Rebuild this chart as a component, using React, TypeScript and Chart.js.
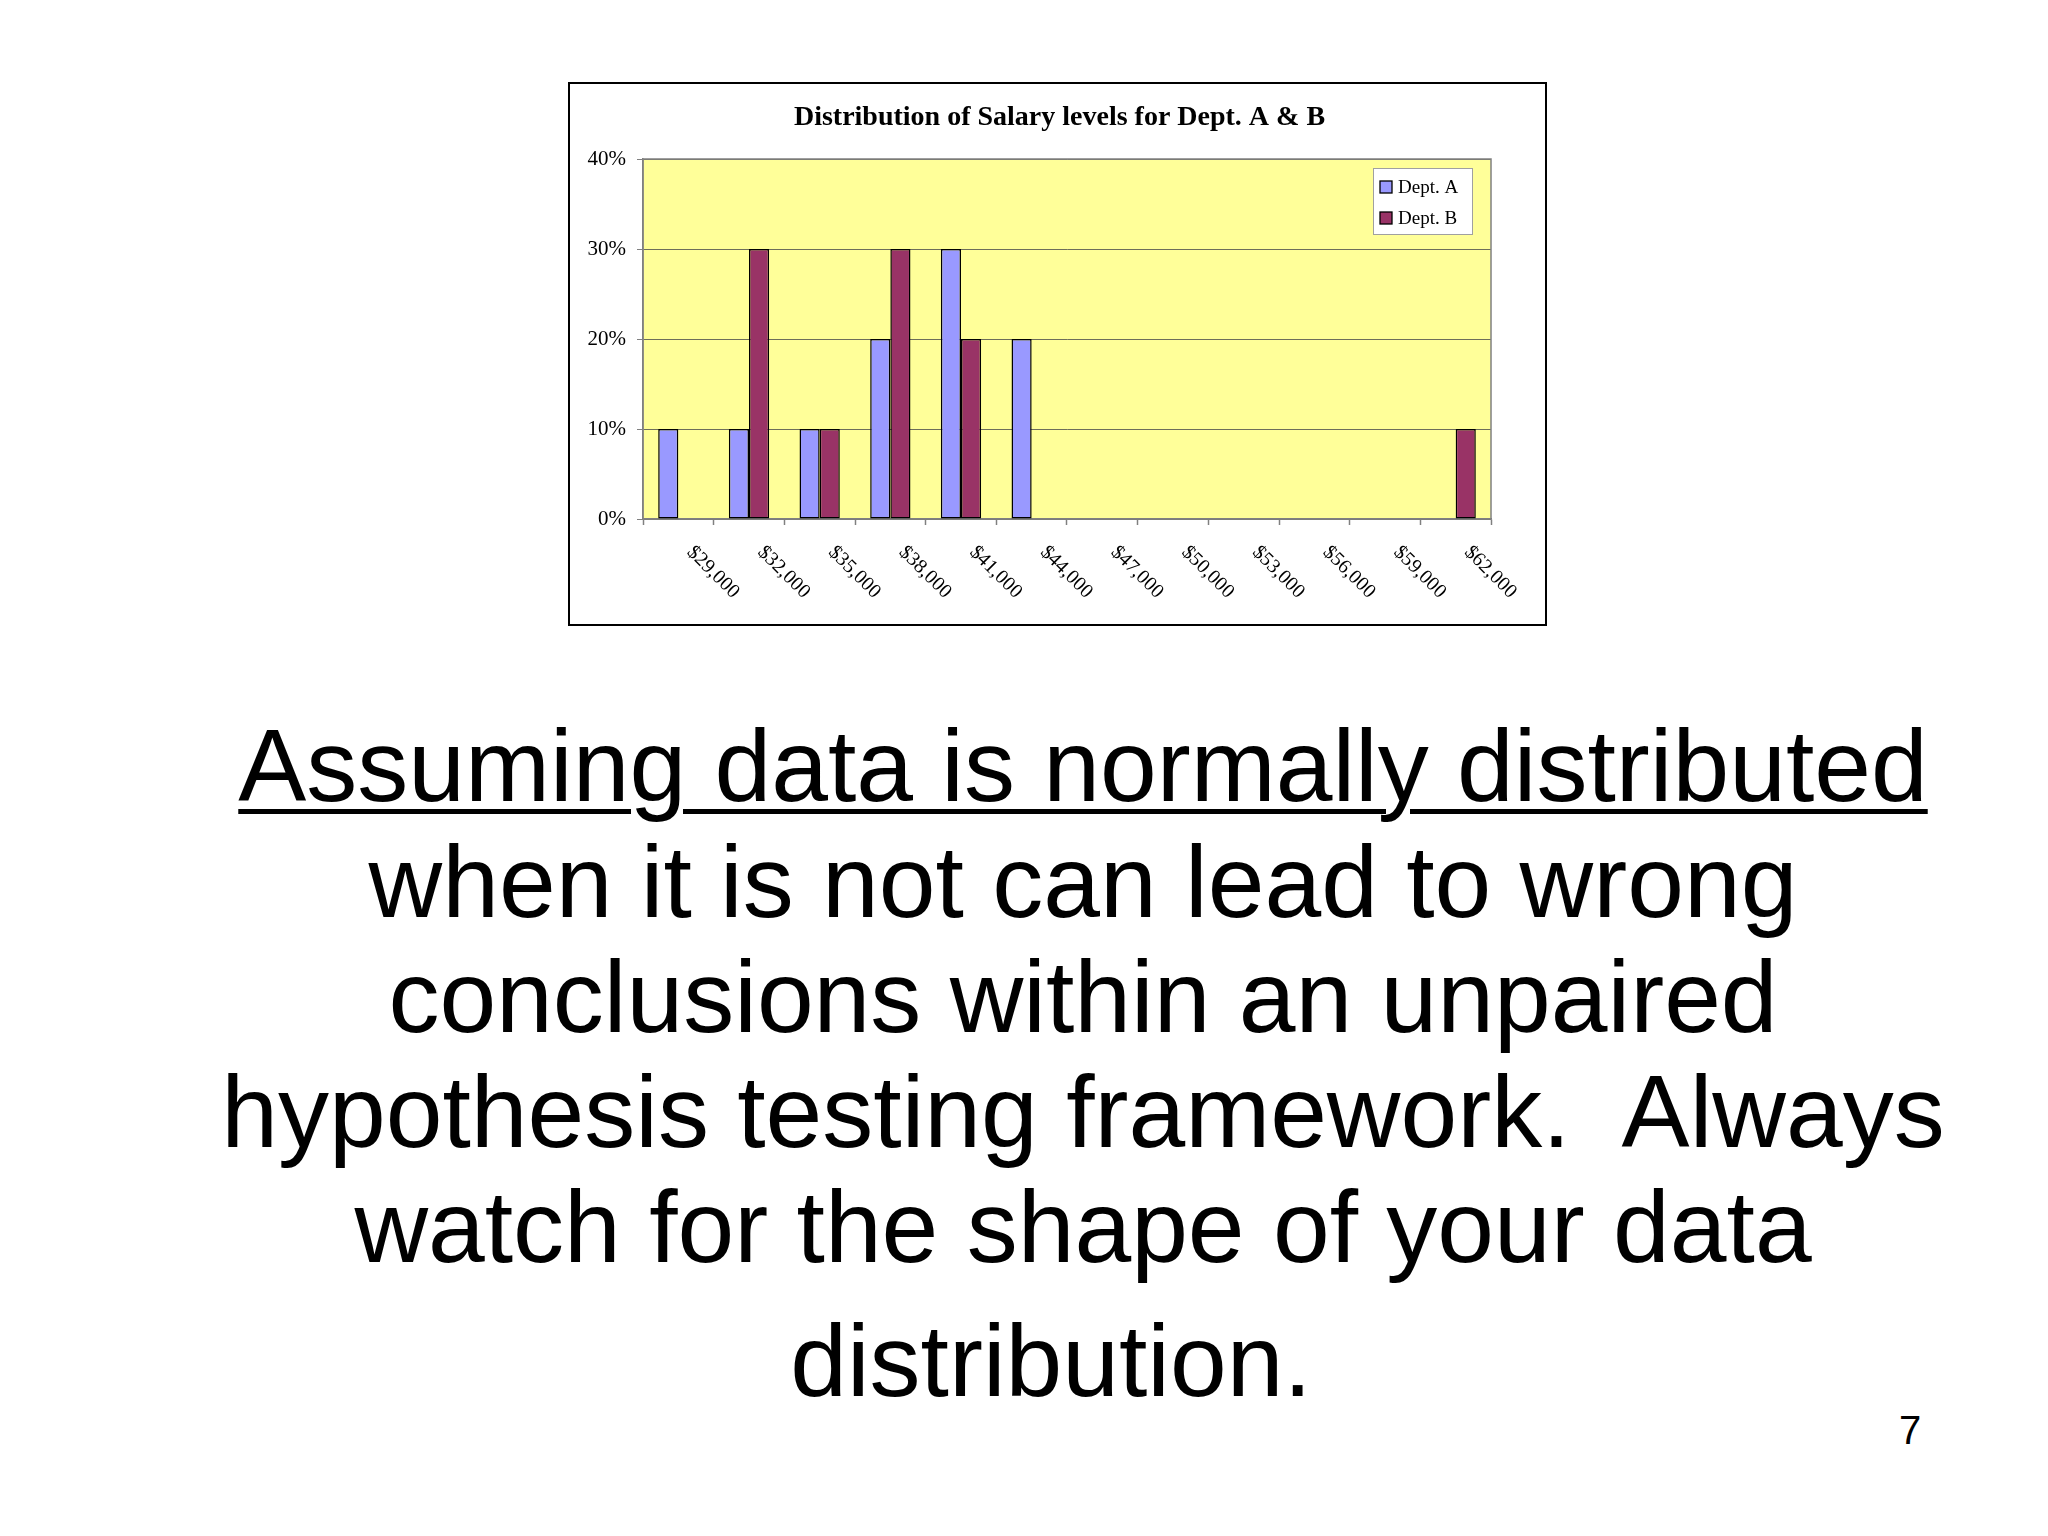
import React, { useEffect, useRef } from "react";
import { Chart, registerables } from "chart.js";

Chart.register(...registerables);

// ---- chart data ----
const CHART_TITLE = "Distribution of Salary levels for Dept. A & B";
const SALARY_LEVELS = [
  "$29,000", "$32,000", "$35,000", "$38,000", "$41,000", "$44,000",
  "$47,000", "$50,000", "$53,000", "$56,000", "$59,000", "$62,000",
];
const DEPT_A_PCT = [10, 10, 10, 20, 30, 20, 0, 0, 0, 0, 0, 0];
const DEPT_B_PCT = [0, 30, 10, 30, 20, 0, 0, 0, 0, 0, 0, 10];
const SERIES_NAMES = ["Dept. A", "Dept. B"];
const Y_MIN = 0;
const Y_MAX = 40;
const Y_STEP = 10;

// ---- slide text ----
const BODY_LINES = [
  "Assuming data is normally distributed",
  "when it is not can lead to wrong",
  "conclusions within an unpaired",
  "hypothesis testing framework.  Always",
  "watch for the shape of your data",
  "distribution.",
];
const PAGE_NUMBER = "7";

// layout of slide text (baseline y, centre x)
const LINE_BASELINES = [801, 917, 1032, 1147, 1262, 1396];
const LINE_CENTERS = [1083, 1083, 1083, 1083, 1083, 1051];

const SERIF = "'Liberation Serif', 'Times New Roman', serif";
const SANS = "'Liberation Sans', Arial, sans-serif";

const CANVAS_W = 975;
const CANVAS_H = 540;

function ChartBox() {
  const ref = useRef<HTMLCanvasElement | null>(null);

  useEffect(() => {
    if (!ref.current) return;

    const plotBg = {
      id: "plotBg",
      beforeDraw(chart: any) {
        const { ctx, chartArea: a } = chart;
        ctx.save();
        ctx.fillStyle = "#FFFF99";
        ctx.fillRect(a.left, a.top, a.right - a.left, a.bottom - a.top);
        ctx.restore();
      },
      beforeDatasetsDraw(chart: any) {
        const { ctx, chartArea: a } = chart;
        ctx.save();
        ctx.strokeStyle = "#808080";
        ctx.lineWidth = 1.5;
        ctx.strokeRect(a.left, a.top, a.right - a.left, a.bottom - a.top);
        ctx.restore();
      },
    };

    const chartTitle = {
      id: "chartTitle",
      afterDraw(chart: any) {
        const { ctx } = chart;
        ctx.save();
        ctx.fillStyle = "#000";
        ctx.font = `bold 28px ${SERIF}`;
        ctx.textAlign = "center";
        ctx.textBaseline = "alphabetic";
        ctx.fillText(CHART_TITLE, chart.width / 2 + 2, 41);
        ctx.restore();
      },
    };

    const xLabels = {
      id: "xLabels",
      afterDraw(chart: any) {
        const { ctx, chartArea: a } = chart;
        const xs = chart.scales.x;
        ctx.save();
        ctx.fillStyle = "#000";
        ctx.font = `20px ${SERIF}`;
        ctx.textAlign = "left";
        ctx.textBaseline = "alphabetic";
        const labels = chart.data.labels as string[];
        labels.forEach((lab, i) => {
          const x = xs.getPixelForValue(i) + 8;
          const y = a.bottom + 34;
          ctx.save();
          ctx.translate(x, y);
          ctx.rotate(Math.PI / 4);
          ctx.fillText(lab, 0, 0);
          ctx.restore();
        });
        ctx.restore();
      },
    };

    const insideLegend = {
      id: "insideLegend",
      afterDraw(chart: any) {
        const { ctx, chartArea: a } = chart;
        const w = 99;
        const h = 66;
        const x0 = a.right - 19 - w;
        const y0 = a.top + 9;
        ctx.save();
        ctx.fillStyle = "#FFFFFF";
        ctx.fillRect(x0, y0, w, h);
        ctx.strokeStyle = "#A0A0A0";
        ctx.lineWidth = 1;
        ctx.strokeRect(x0 + 0.5, y0 + 0.5, w, h);
        ctx.font = `19px ${SERIF}`;
        ctx.textBaseline = "middle";
        ctx.textAlign = "left";
        chart.data.datasets.forEach((ds: any, i: number) => {
          const cy = y0 + 19 + i * 31;
          ctx.fillStyle = ds.backgroundColor;
          ctx.fillRect(x0 + 7, cy - 6, 12, 12);
          ctx.strokeStyle = "#000";
          ctx.lineWidth = 1.3;
          ctx.strokeRect(x0 + 7, cy - 6, 12, 12);
          ctx.fillStyle = "#000";
          ctx.fillText(ds.label, x0 + 25, cy + 1);
        });
        ctx.restore();
      },
    };

    const chart = new Chart(ref.current, {
      type: "bar",
      data: {
        labels: SALARY_LEVELS,
        datasets: [
          {
            label: SERIES_NAMES[0],
            data: DEPT_A_PCT,
            backgroundColor: "#9999FF",
            borderColor: "#000000",
            borderWidth: 1.5,
            borderSkipped: false,
            barPercentage: 1,
            categoryPercentage: 0.57,
          },
          {
            label: SERIES_NAMES[1],
            data: DEPT_B_PCT,
            backgroundColor: "#993366",
            borderColor: "#000000",
            borderWidth: 1.5,
            borderSkipped: false,
            barPercentage: 1,
            categoryPercentage: 0.57,
          },
        ],
      },
      options: {
        responsive: false,
        animation: false,
        devicePixelRatio: 1,
        layout: { padding: { left: 0, right: 54, top: 75, bottom: 0 } },
        plugins: {
          legend: { display: false },
          tooltip: { enabled: false },
          title: { display: false },
        },
        scales: {
          x: {
            type: "category",
            offset: true,
            grid: {
              offset: true,
              drawOnChartArea: false,
              drawTicks: true,
              tickLength: 6,
              tickColor: "#808080",
              tickWidth: 1.5,
            },
            border: { display: true, color: "#808080", width: 1.5 },
            ticks: { display: false },
            afterFit: (s: any) => {
              s.height = 105;
            },
          },
          y: {
            min: Y_MIN,
            max: Y_MAX,
            ticks: {
              stepSize: Y_STEP,
              color: "#000",
              padding: 11,
              font: { family: SERIF, size: 21 },
              callback: (v: any) => `${v}%`,
            },
            grid: {
              color: "#6E6E5A",
              lineWidth: 1,
              drawTicks: true,
              tickLength: 6,
              tickColor: "#808080",
            },
            border: { display: true, color: "#808080", width: 1.5 },
            afterFit: (s: any) => {
              s.width = 73;
            },
          },
        },
      },
      plugins: [plotBg, chartTitle, xLabels, insideLegend],
    } as any);

    return () => chart.destroy();
  }, []);

  return (
    <canvas
      ref={ref}
      width={CANVAS_W}
      height={CANVAS_H}
      style={{ display: "block", width: CANVAS_W, height: CANVAS_H }}
    />
  );
}

export default function App() {
  const fontSize = 102;
  const ascent = 0.905 * fontSize;
  return (
    <div
      style={{
        position: "absolute",
        left: 0,
        top: 0,
        width: 2048,
        height: 1536,
        background: "#FFFFFF",
        overflow: "hidden",
      }}
    >
      <div
        style={{
          position: "absolute",
          left: 568,
          top: 82,
          width: 979,
          height: 544,
          border: "2px solid #000",
          boxSizing: "border-box",
          background: "#FFFFFF",
        }}
      >
        <ChartBox />
      </div>

      {BODY_LINES.map((t, i) => (
        <div
          key={i}
          style={{
            position: "absolute",
            left: LINE_CENTERS[i] - 1000,
            width: 2000,
            top: LINE_BASELINES[i] - ascent,
            fontFamily: SANS,
            fontSize,
            lineHeight: `${Math.round(1.117 * fontSize)}px`,
            height: Math.round(1.117 * fontSize),
            textAlign: "center",
            whiteSpace: "pre",
            color: "#000",
            textDecoration: i === 0 ? "underline" : "none",
            textDecorationThickness: i === 0 ? "5px" : undefined,
            textUnderlineOffset: i === 0 ? "8px" : undefined,
          }}
        >
          {t}
        </div>
      ))}

      <div
        style={{
          position: "absolute",
          left: 1880,
          width: 60,
          top: 1444 - 0.905 * 40,
          fontFamily: SANS,
          fontSize: 40,
          lineHeight: "45px",
          textAlign: "center",
          color: "#000",
        }}
      >
        {PAGE_NUMBER}
      </div>
    </div>
  );
}
